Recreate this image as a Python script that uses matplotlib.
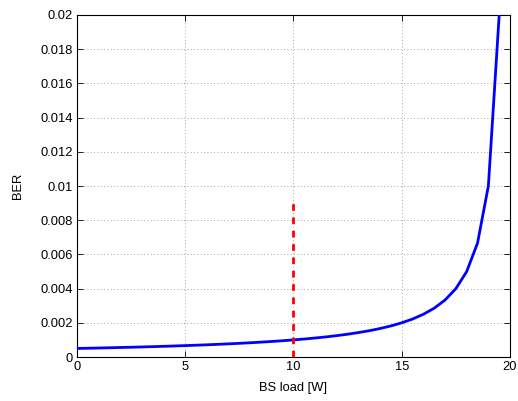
import matplotlib
matplotlib.use('Agg')
import matplotlib.pyplot as plt
from matplotlib.ticker import FuncFormatter

# BER against base station load
bs_load = [0, 0.5, 1, 1.5, 2, 2.5, 3, 3.5, 4, 4.5, 5, 5.5, 6, 6.5, 7, 7.5, 8, 8.5, 9, 9.5,
           10, 10.5, 11, 11.5, 12, 12.5, 13, 13.5, 14, 14.5, 15, 15.5, 16, 16.5, 17, 17.5,
           18, 18.5, 19, 19.5]
ber = [0.000500, 0.000513, 0.000526, 0.000541, 0.000556, 0.000571, 0.000588, 0.000606,
       0.000625, 0.000645, 0.000667, 0.000690, 0.000714, 0.000741, 0.000769, 0.000800,
       0.000833, 0.000870, 0.000909, 0.000952, 0.001000, 0.001053, 0.001111, 0.001176,
       0.001250, 0.001333, 0.001429, 0.001538, 0.001667, 0.001818, 0.002000, 0.002222,
       0.002500, 0.002857, 0.003333, 0.004000, 0.005000, 0.006667, 0.010000, 0.020000]

# operating point marker
marker_x = [10, 10]
marker_y = [0, 0.0092]

x_ticks = [0, 5, 10, 15, 20]
y_ticks = [0, 0.002, 0.004, 0.006, 0.008, 0.01, 0.012, 0.014, 0.016, 0.018, 0.02]

plt.rcParams['font.family'] = ['Liberation Sans', 'DejaVu Sans']

fig = plt.figure(figsize=(5.18, 4.01), dpi=100)
ax = fig.add_axes([0.1486, 0.1097, 0.836, 0.8529])

ax.plot(bs_load, ber, color='#0000ff', linewidth=2.0, zorder=3)
ax.plot(marker_x, marker_y, color='#ff0000', linewidth=2.0, linestyle=(0, (2.4, 2.4)), zorder=3)

ax.set_xlim(0, 20)
ax.set_ylim(0, 0.02)
ax.set_xticks(x_ticks)
ax.set_yticks(y_ticks)
ax.yaxis.set_major_formatter(FuncFormatter(lambda v, p: '%g' % round(v, 4)))
ax.tick_params(direction='in', length=4, width=0.6, labelsize=9.3,
               top=True, right=True, pad=3)
ax.grid(True, linestyle=(0, (1, 3)), color='#888888', linewidth=0.6)
for s in ax.spines.values():
    s.set_linewidth(0.8)

ax.set_xlabel('BS load [W]', fontsize=9.3, labelpad=6)
ax.set_ylabel('BER', fontsize=9.3, labelpad=12)

fig.savefig('out.png', dpi=100)
